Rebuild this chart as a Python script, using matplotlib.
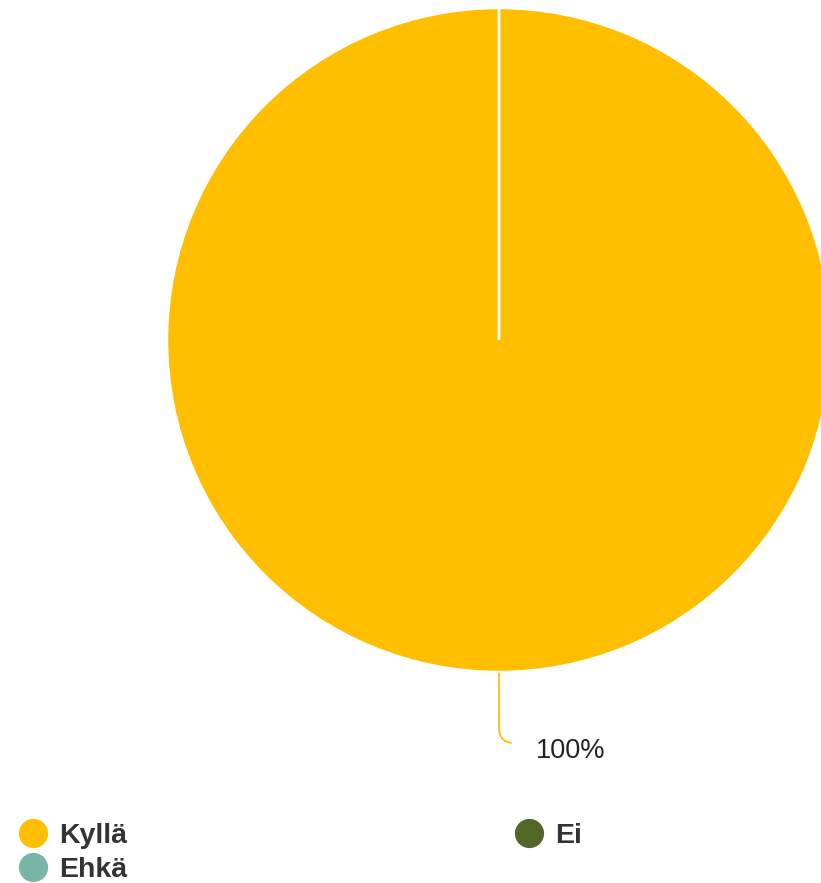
import numpy as np
import matplotlib.pyplot as plt
from matplotlib.lines import Line2D

plt.rcParams['font.family'] = ['Liberation Sans', 'DejaVu Sans']

# data
labels = ['Kyllä', 'Ehkä', 'Ei']
values = [100, 0, 0]
colors = ['#FFBF00', '#78B5A7', '#526629']

fig = plt.figure(figsize=(8.21, 8.83), dpi=100)
ax = fig.add_axes([0, 0, 1, 1])

cx, cy, r = 499, 883 - 340, 332
wedges, _ = ax.pie(values, colors=colors, startangle=90, counterclock=False,
                   center=(cx, cy), radius=r,
                   wedgeprops=dict(edgecolor='white', linewidth=1.8))

ax.set_xlim(0, 821)
ax.set_ylim(0, 883)
ax.set_aspect('equal')
ax.axis('off')

# percent label for non-zero slices
total = sum(values)
start = 90
for v, c in zip(values, colors):
    ang = start - 360 * v / total / 2
    start -= 360 * v / total
    if v == 0:
        continue
    a = np.deg2rad(ang)
    px, py = cx + r * np.cos(a), cy + r * np.sin(a)
    ax.annotate(f'{v / total * 100:.0f}%', xy=(px, py), xytext=(px + 37, py - 79),
                ha='left', va='center', fontsize=19.5, color='#222222',
                arrowprops=dict(arrowstyle='-', color=c, lw=1.3,
                                connectionstyle='angle,angleA=0,angleB=90,rad=16',
                                relpos=(0, 0.8), patchA=None, shrinkA=18, shrinkB=1))

handles = [Line2D([], [], marker='o', ls='', markersize=20, color=c) for c in colors]
leg = fig.legend(handles, labels, loc='upper left', bbox_to_anchor=(0.0056, 0.081),
                 ncol=2, frameon=False, columnspacing=13.53, labelspacing=0.3,
                 handletextpad=0.3, handlelength=1.2, borderaxespad=0,
                 prop=dict(size=20.5, weight='bold'))
for t in leg.get_texts():
    t.set_color('#333333')

fig.savefig('out.png', dpi=100)
